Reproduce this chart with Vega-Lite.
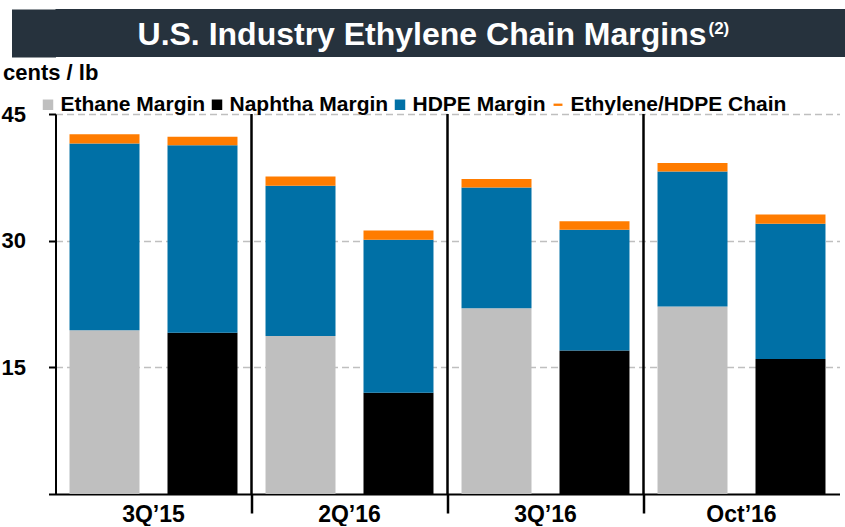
{
  "$schema": "https://vega.github.io/schema/vega-lite/v6.json",
  "background": "white",
  "padding": {"left": 0.5, "top": 9, "right": 0, "bottom": 0},
  "autosize": {"type": "pad"},
  "bounds": "flush",
  "spacing": 57,
  "config": {"font": "Liberation Sans"},
  "vconcat": [
    {
      "width": 790,
      "height": 48,
      "view": {"fill": "#26323D", "stroke": null},
      "data": {"values": [{"row": "banner", "t": "U.S. Industry Ethylene Chain Margins", "s": "(2)"}]},
      "layer": [
        {
          "mark": {"type": "text", "align": "right", "baseline": "alphabetic", "dx": 256, "dy": 12, "fontSize": 32, "fontWeight": "bold", "color": "white", "font": "Liberation Sans"},
          "encoding": {
            "text": {"field": "t"},
            "y": {"field": "row", "type": "nominal", "axis": {"title": null, "labels": false, "ticks": false, "grid": false, "domain": true, "domainColor": "#26323D", "domainWidth": 44, "offset": 22}}
          }
        },
        {
          "mark": {"type": "text", "align": "left", "baseline": "alphabetic", "dx": 258, "dy": 1, "fontSize": 17, "fontWeight": "bold", "color": "white", "font": "Liberation Sans"},
          "encoding": {
            "text": {"field": "s"},
            "y": {"field": "row", "type": "nominal"}
          }
        }
      ]
    },
    {
      "width": 784,
      "height": 380,
      "view": {"stroke": null},
      "layer": [
        {
          "data": {"values": [
            {"group": "3Q’15", "bar": "Ethane", "component": "Ethane Margin", "k": 1, "value": 19.4},
            {"group": "3Q’15", "bar": "Ethane", "component": "HDPE Margin", "k": 2, "value": 22.1},
            {"group": "3Q’15", "bar": "Ethane", "component": "Ethylene/HDPE Chain", "k": 3, "value": 1.1},
            {"group": "3Q’15", "bar": "Naphtha", "component": "Naphtha Margin", "k": 1, "value": 19.1},
            {"group": "3Q’15", "bar": "Naphtha", "component": "HDPE Margin", "k": 2, "value": 22.2},
            {"group": "3Q’15", "bar": "Naphtha", "component": "Ethylene/HDPE Chain", "k": 3, "value": 1.0},
            {"group": "2Q’16", "bar": "Ethane", "component": "Ethane Margin", "k": 1, "value": 18.7},
            {"group": "2Q’16", "bar": "Ethane", "component": "HDPE Margin", "k": 2, "value": 17.8},
            {"group": "2Q’16", "bar": "Ethane", "component": "Ethylene/HDPE Chain", "k": 3, "value": 1.1},
            {"group": "2Q’16", "bar": "Naphtha", "component": "Naphtha Margin", "k": 1, "value": 12.0},
            {"group": "2Q’16", "bar": "Naphtha", "component": "HDPE Margin", "k": 2, "value": 18.1},
            {"group": "2Q’16", "bar": "Naphtha", "component": "Ethylene/HDPE Chain", "k": 3, "value": 1.1},
            {"group": "3Q’16", "bar": "Ethane", "component": "Ethane Margin", "k": 1, "value": 22.0},
            {"group": "3Q’16", "bar": "Ethane", "component": "HDPE Margin", "k": 2, "value": 14.3},
            {"group": "3Q’16", "bar": "Ethane", "component": "Ethylene/HDPE Chain", "k": 3, "value": 1.0},
            {"group": "3Q’16", "bar": "Naphtha", "component": "Naphtha Margin", "k": 1, "value": 17.0},
            {"group": "3Q’16", "bar": "Naphtha", "component": "HDPE Margin", "k": 2, "value": 14.3},
            {"group": "3Q’16", "bar": "Naphtha", "component": "Ethylene/HDPE Chain", "k": 3, "value": 1.0},
            {"group": "Oct’16", "bar": "Ethane", "component": "Ethane Margin", "k": 1, "value": 22.2},
            {"group": "Oct’16", "bar": "Ethane", "component": "HDPE Margin", "k": 2, "value": 16.0},
            {"group": "Oct’16", "bar": "Ethane", "component": "Ethylene/HDPE Chain", "k": 3, "value": 1.0},
            {"group": "Oct’16", "bar": "Naphtha", "component": "Naphtha Margin", "k": 1, "value": 16.0},
            {"group": "Oct’16", "bar": "Naphtha", "component": "HDPE Margin", "k": 2, "value": 16.0},
            {"group": "Oct’16", "bar": "Naphtha", "component": "Ethylene/HDPE Chain", "k": 3, "value": 1.1}
          ]},
          "mark": {"type": "bar"},
          "encoding": {
            "x": {
              "field": "group", "type": "nominal",
              "scale": {"domain": ["3Q’15", "2Q’16", "3Q’16", "Oct’16"], "paddingInner": 0, "paddingOuter": 0},
              "axis": {"orient": "bottom", "title": null, "labelAngle": 0, "labelFontSize": 23, "labelFontWeight": "bold", "labelColor": "black", "labelPadding": 9, "ticks": false, "domain": true, "domainColor": "black", "domainWidth": 2, "grid": false}
            },
            "xOffset": {"field": "bar", "type": "nominal", "scale": {"domain": ["Ethane", "Naphtha"], "paddingInner": 0.2857, "paddingOuter": 0.143}},
            "y": {
              "field": "value", "type": "quantitative", "stack": "zero",
              "scale": {"domain": [0, 45], "nice": false},
              "axis": {
                "title": "cents / lb", "titleAngle": 0, "titleAlign": "left", "titleBaseline": "alphabetic", "titleX": -53, "titleY": -35,
                "titleFontSize": 22, "titleFontWeight": "bold", "titleColor": "black",
                "values": [0, 15, 30, 45],
                "labelExpr": "datum.value === 0 ? '' : datum.label",
                "labelFontSize": 22, "labelFontWeight": "bold", "labelColor": "black", "labelPadding": 23,
                "tickSize": 7, "tickWidth": 2, "tickColor": "black",
                "domainColor": "black", "domainWidth": 2,
                "grid": true, "gridColor": "#BFBFBF", "gridDash": [7, 4], "gridWidth": 1.5,
                "gridOpacity": {"condition": {"test": "datum.value === 0", "value": 0}, "value": 1}
              }
            },
            "color": {
              "field": "component", "type": "nominal",
              "sort": ["Ethane Margin", "Naphtha Margin", "HDPE Margin", "Ethylene/HDPE Chain"],
              "scale": {"domain": ["Ethane Margin", "Naphtha Margin", "HDPE Margin", "Ethylene/HDPE Chain"], "range": ["#BFBFBF", "#000000", "#0070A6", "#FF7C00"]},
              "legend": {
                "orient": "none", "legendX": -18, "legendY": 85, "direction": "horizontal", "title": null,
                "padding": 0, "symbolType": "square", "symbolSize": 110, "symbolStrokeWidth": 0,
                "labelFont": "Liberation Sans", "labelFontSize": 21, "labelFontWeight": "bold", "labelColor": "black",
                "labelOffset": 2, "columnPadding": 1,
                "labelLimit": 400,
                "encode": {"symbols": {"update": {"shape": {"signal": "datum.value === 'Ethylene/HDPE Chain' ? 'M-0.85,-0.22H0.85V0.22H-0.85Z' : 'square'"}}}}
              }
            },
            "order": {"field": "k", "type": "quantitative"}
          }
        },
        {
          "data": {"values": [{"group": "2Q’16"}, {"group": "3Q’16"}, {"group": "Oct’16"}]},
          "mark": {"type": "rule", "color": "black", "strokeWidth": 2.5},
          "encoding": {
            "x": {
              "field": "group", "type": "nominal", "bandPosition": 0,
              "scale": {"domain": ["3Q’15", "2Q’16", "3Q’16", "Oct’16"], "paddingInner": 0, "paddingOuter": 0},
              "axis": {"orient": "bottom", "title": null, "labels": false, "domain": false, "grid": false, "ticks": true, "tickSize": 19, "tickWidth": 2.5, "tickColor": "black", "bandPosition": 0, "values": ["2Q’16", "3Q’16", "Oct’16"]}
            }
          }
        }
      ],
      "resolve": {"axis": {"x": "independent"}}
    }
  ]
}
